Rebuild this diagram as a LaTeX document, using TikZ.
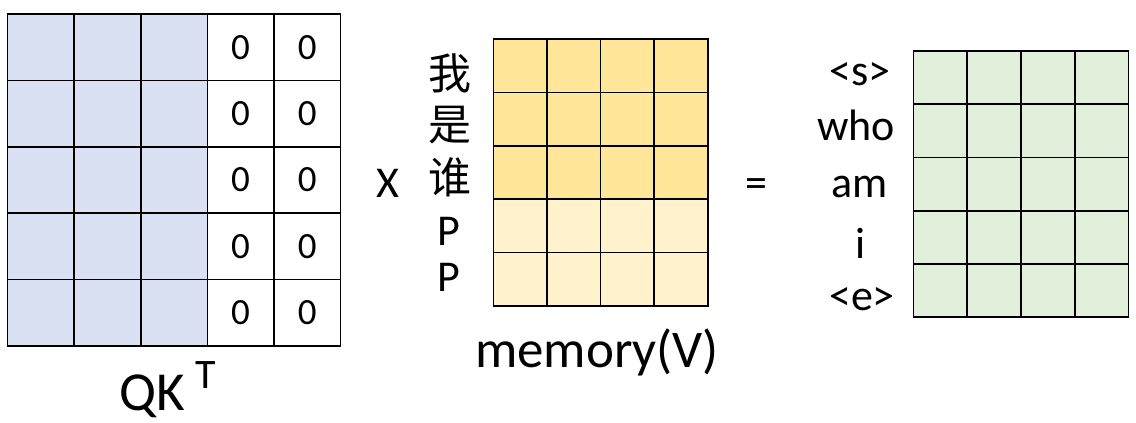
\documentclass[tikz,border=0pt]{standalone}
\usepackage{fontspec}
\setmainfont{Carlito}
\newfontfamily\cjk{Noto Sans CJK SC}
\usepackage{tikz}
\usetikzlibrary{positioning}
\definecolor{qkblue}{HTML}{DAE1F3}
\definecolor{memgold}{HTML}{FFE699}
\definecolor{mempale}{HTML}{FFF2CC}
\definecolor{outgreen}{HTML}{E2EFDA}
\tikzstyle{cell} = [
  rectangle, draw=black, line width=1.6pt,
  inner sep=0pt, outer sep=0pt
]
\tikzstyle{qkcell} = [cell, minimum width=66.6pt, minimum height=66.4pt, font=\fontsize{37}{40}\selectfont]
\tikzstyle{vcell} = [cell, minimum width=53.55pt, minimum height=53.35pt]
\tikzstyle{outcell} = [cell, fill=outgreen, minimum width=53.75pt, minimum height=53.25pt]
\tikzstyle{word} = [inner sep=0pt, anchor=base, font=\fontsize{44}{50}\selectfont]
\tikzstyle{title} = [inner sep=0pt, anchor=base, font=\fontsize{55}{60}\selectfont]

\begin{document}
\begin{tikzpicture}[x=1pt, y=-1pt]
  \useasboundingbox (0,0) rectangle (1136,423);

  % QK^T, right two columns masked
  \foreach \r in {1,...,5} {
    \foreach \c in {1,2,3}
      \node[qkcell, fill=qkblue] (qk-\r-\c) at ({7.5+66.6*(\c-0.5)}, {14+66.4*(\r-0.5)}) {};
    \foreach \c in {4,5}
      \node[qkcell, fill=white] (qk-\r-\c) at ({7.5+66.6*(\c-0.5)}, {14+66.4*(\r-0.5)}) {0};
  }
  \node[title, anchor=base west] (qk) at (119, 410) {QK};
  \node[word, anchor=base west, font=\fontsize{42}{46}\selectfont] (qkt) at (195, 388) {T};

  % times
  \node[word] (times) at (388, 197) {X};

  % memory (V)
  \foreach \r/\col in {1/memgold, 2/memgold, 3/memgold, 4/mempale, 5/mempale}
    \foreach \c in {1,...,4}
      \node[vcell, fill=\col] (v-\r-\c) at ({493.5+53.55*(\c-0.5)}, {39+53.35*(\r-0.5)}) {};
  \node[word, anchor=center, font=\fontsize{43}{50}\cjk] (wo) at (450, 73) {我};
  \node[word, anchor=center, font=\fontsize{43}{50}\cjk] (shi) at (450, 125) {是};
  \node[word, anchor=center, font=\fontsize{43}{50}\cjk] (shui) at (450, 177) {谁};
  \node[word] (pad1) at (449, 245) {P};
  \node[word] (pad2) at (449, 291) {P};
  \node[title, font=\fontsize{53}{58}\selectfont] (mem) at (597, 367) {memory(V)};

  % equals
  \node[word] (eq) at (756, 197) {=};

  % output
  \foreach \r in {1,...,5}
    \foreach \c in {1,...,4}
      \node[outcell] (out-\r-\c) at ({913.5+53.75*(\c-0.5)}, {51+53.25*(\r-0.5)}) {};
  \node[word] (bos) at (860, 85) {<s>};
  \node[word] (who) at (856, 140) {who};
  \node[word] (am) at (860, 197) {am};
  \node[word] (i) at (861, 258) {i};
  \node[word] (eos) at (862, 310) {<e>};

\end{tikzpicture}
\end{document}
